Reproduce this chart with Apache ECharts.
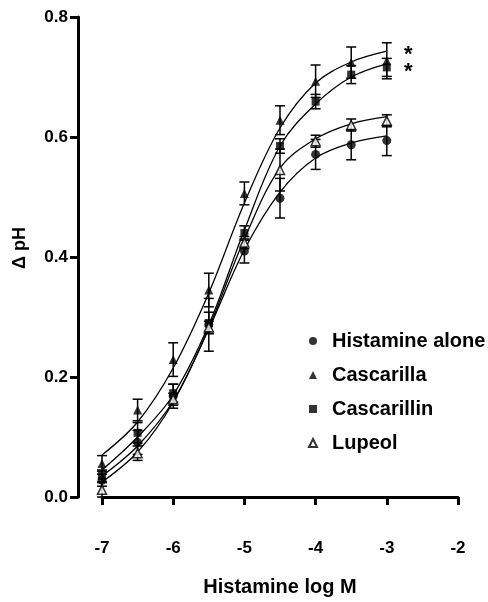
<!DOCTYPE html>
<html>
<head>
<meta charset="utf-8">
<script src="https://cdn.jsdelivr.net/npm/echarts@6/dist/echarts.min.js"></script>
<style>html,body{margin:0;padding:0;background:#fff;}#chart{width:488px;height:602px;}</style>
</head>
<body>
<div id="chart"></div>
<script>
// Histamine concentration (log M)
var logDose = [-7, -6.5, -6, -5.5, -5, -4.5, -4, -3.5, -3];
var xTicks = [-7, -6, -5, -4, -3, -2];
var yTicks = [0.0, 0.2, 0.4, 0.6, 0.8];

// Mean ΔpH values
var histamineMean   = [0.028, 0.091, 0.168, 0.287, 0.410, 0.498, 0.571, 0.587, 0.594];
var cascarillaMean  = [0.056, 0.145, 0.229, 0.345, 0.506, 0.628, 0.693, 0.724, 0.727];
var cascarillinMean = [0.035, 0.107, 0.173, 0.290, 0.440, 0.585, 0.659, 0.704, 0.716];
var lupeolMean      = [0.012, 0.073, 0.163, 0.283, 0.424, 0.545, 0.593, 0.620, 0.627];

// SEM values
var histamineErr   = [0.010, 0.020, 0.020, 0.044, 0.020, 0.033, 0.025, 0.025, 0.025];
var cascarillaErr  = [0.013, 0.018, 0.028, 0.028, 0.019, 0.024, 0.027, 0.026, 0.030];
var cascarillinErr = [0.010, 0.017, 0.015, 0.018, 0.012, 0.012, 0.012, 0.015, 0.015];
var lupeolErr      = [0.012, 0.012, 0.010, 0.010, 0.010, 0.035, 0.010, 0.010, 0.010];

// Fitted curve values at each dose
var histamineFit   = [0.035, 0.085, 0.160, 0.280, 0.412, 0.508, 0.565, 0.590, 0.602];
var cascarillaFit  = [0.070, 0.125, 0.215, 0.340, 0.490, 0.615, 0.690, 0.725, 0.743];
var cascarillinFit = [0.045, 0.100, 0.170, 0.287, 0.445, 0.585, 0.655, 0.700, 0.722];
var lupeolFit      = [0.025, 0.075, 0.158, 0.282, 0.430, 0.548, 0.597, 0.622, 0.634];

var seriesNames = ['Histamine alone', 'Cascarilla', 'Cascarillin', 'Lupeol'];
var significance = ['*', '*'];

var FONT = '"Liberation Sans", Arial, Helvetica, sans-serif';

function pairs(ys) { return logDose.map(function (x, i) { return [x, ys[i]]; }); }
function errData(m, e) { return logDose.map(function (x, i) { return [x, m[i] - e[i], m[i] + e[i]]; }); }

function errSeries(m, e) {
  return {
    type: 'custom',
    silent: true,
    z: 1,
    data: errData(m, e),
    renderItem: function (params, api) {
      var x = api.value(0);
      var p1 = api.coord([x, api.value(2)]);
      var p2 = api.coord([x, api.value(1)]);
      var w = 5;
      var st = { stroke: '#000', lineWidth: 1.5 };
      return { type: 'group', children: [
        { type: 'line', shape: { x1: p1[0], y1: p1[1], x2: p2[0], y2: p2[1] }, style: st },
        { type: 'line', shape: { x1: p1[0] - w, y1: p1[1], x2: p1[0] + w, y2: p1[1] }, style: st },
        { type: 'line', shape: { x1: p2[0] - w, y1: p2[1], x2: p2[0] + w, y2: p2[1] }, style: st }
      ]};
    }
  };
}
function fitSeries(f) {
  return {
    type: 'line', data: pairs(f), smooth: 0.35, showSymbol: false, silent: true, z: 2,
    lineStyle: { color: '#000', width: 1.3 }
  };
}
function ptSeries(name, m, symbol, open, size) {
  return {
    name: name, type: 'scatter', data: pairs(m), symbol: symbol, symbolSize: size, z: 3,
    itemStyle: open ? { color: '#fff', borderColor: '#000', borderWidth: 1.5 } : { color: '#000' }
  };
}

var chart = echarts.init(document.getElementById('chart'), null, { renderer: 'canvas' });
chart.setOption({
  animation: false,
  backgroundColor: '#fff',
  grid: { left: 102, right: 30, top: 17, bottom: 100 },
  xAxis: {
    type: 'value', min: xTicks[0], max: xTicks[xTicks.length - 1], interval: 1,
    offset: 31,
    name: 'Histamine log M', nameLocation: 'middle', nameGap: 49,
    nameTextStyle: { fontFamily: FONT, fontWeight: 'bold', fontSize: 20, color: '#000' },
    axisLine: { lineStyle: { color: '#000', width: 3 } },
    axisTick: { length: 8, lineStyle: { color: '#000', width: 3 } },
    axisLabel: { fontFamily: FONT, fontWeight: 'bold', fontSize: 17, color: '#000', margin: 12 },
    splitLine: { show: false }
  },
  yAxis: {
    type: 'value', min: yTicks[0], max: yTicks[yTicks.length - 1], interval: 0.2,
    offset: 24,
    axisLine: { show: true, lineStyle: { color: '#000', width: 3 } },
    axisTick: { show: true, length: 8, lineStyle: { color: '#000', width: 3 } },
    axisLabel: { fontFamily: FONT, fontWeight: 'bold', fontSize: 17, color: '#000', margin: 10,
      formatter: function (v) { return v.toFixed(1); } },
    splitLine: { show: false }
  },
  legend: {
    data: seriesNames,
    orient: 'vertical', left: 303, top: 326,
    itemWidth: 8, itemHeight: 8, itemGap: 14,
    textStyle: { fontFamily: FONT, fontWeight: 'bold', fontSize: 20, color: '#000', lineHeight: 20, padding: [0, 0, 0, 10] },
    selectedMode: false
  },
  graphic: [
    { type: 'text', left: 11, top: 227, rotation: Math.PI / 2, style: { text: 'Δ pH', font: 'bold 18px ' + FONT, fill: '#000', textAlign: 'center', textVerticalAlign: 'middle' } },
    { type: 'text', x: 404, y: 44, style: { text: significance[0], font: 'bold 22px ' + FONT, fill: '#000' } },
    { type: 'text', x: 404, y: 61, style: { text: significance[1], font: 'bold 22px ' + FONT, fill: '#000' } }
  ],
  series: [
    errSeries(histamineMean, histamineErr),
    errSeries(cascarillaMean, cascarillaErr),
    errSeries(cascarillinMean, cascarillinErr),
    errSeries(lupeolMean, lupeolErr),
    fitSeries(histamineFit),
    fitSeries(cascarillaFit),
    fitSeries(cascarillinFit),
    fitSeries(lupeolFit),
    ptSeries(seriesNames[0], histamineMean, 'circle', false, 9),
    ptSeries(seriesNames[1], cascarillaMean, 'triangle', false, 9),
    ptSeries(seriesNames[2], cascarillinMean, 'rect', false, 8),
    ptSeries(seriesNames[3], lupeolMean, 'triangle', true, 9)
  ]
});
</script>
</body>
</html>
